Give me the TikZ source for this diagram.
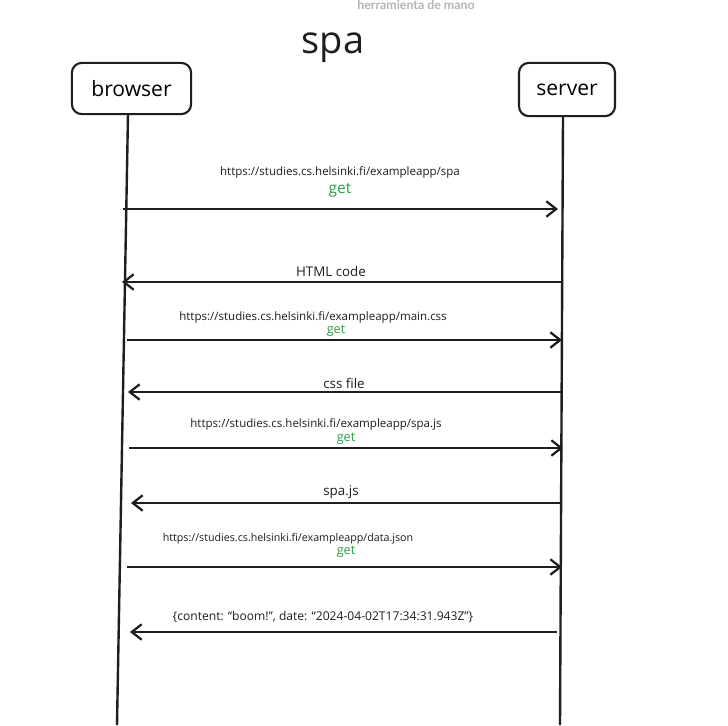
\documentclass[tikz,border=0pt]{standalone}
\usepackage{fontspec}
\setmainfont{Open Sans}
\newfontfamily\notefont{Lato}
\usetikzlibrary{arrows.meta, positioning}

\definecolor{ink}{HTML}{1E1E1E}
\definecolor{getgreen}{HTML}{2F9E44}
\definecolor{notegray}{HTML}{B4B4B4}

\begin{document}
\begin{tikzpicture}[x=0.025cm, y=-0.025cm, >={Straight Barb[length=7pt, width=11pt]},
    font=\fontsize{8.2}{10}\selectfont,
    actor/.style={draw=ink, line width=1.5pt, rounded corners=7pt, inner sep=0pt,
      minimum height=1.28cm, font=\fontsize{15}{18}\selectfont},
    lifeline/.style={draw=ink, line width=1.7pt},
    msg/.style={->, draw=ink, line width=1.6pt},
    lbl/.style={text=ink, inner sep=1pt},
    reply/.style={text=ink, inner sep=1pt, font=\fontsize{9.5}{11}\selectfont},
    gettxt/.style={text=getgreen, inner sep=1pt, font=\fontsize{9}{11}\selectfont}]
  \useasboundingbox[fill=white] (0,0) rectangle (728,725);

  \node[text=notegray, font=\notefont\bfseries\fontsize{8.8}{10}\selectfont, inner sep=0pt] (note) at (416,5) {herramienta de mano};
  \node[text=ink, font=\fontsize{27}{30}\selectfont, inner sep=0pt] (title) at (333,48) {spa};

  \node[actor, minimum width=2.98cm] (browser) at (131.5,88.5) {browser};
  \node[actor, minimum width=2.4cm, minimum height=1.33cm] (server) at (567,89.5) {server};

  \coordinate (browser-top) at (128,114);
  \coordinate (browser-end) at (117,725);
  \coordinate (server-top) at (563,116);
  \coordinate (server-end) at (560,725);
  \draw[lifeline] (browser-top) -- (browser-end);
  \draw[lifeline] (server-top) -- (server-end);

  % requests, browser to server
  \foreach \n/\y/\xa/\xb in {1/209/123/558, 3/340/127/562, 5/448/129/563, 7/567/127/562} {
    \coordinate (b-\n) at (\xa,\y);
    \coordinate (s-\n) at (\xb,\y);
    \draw[msg] (b-\n) -- (s-\n);
  };
  % responses, server to browser
  \foreach \n/\y/\xa/\xb in {2/282/122/563, 4/392/128/561, 6/503/131/561, 8/632/130/557} {
    \coordinate (b-\n) at (\xa,\y);
    \coordinate (s-\n) at (\xb,\y);
    \draw[msg] (s-\n) -- (b-\n);
  };

  \node[lbl] (url-1) at (340,172) {https://studies.cs.helsinki.fi/exampleapp/spa};
  \node[gettxt, font=\fontsize{11}{13}\selectfont] (get-1) at (340,190) {get};
  \node[reply] (reply-2) at (331,271) {HTML code};
  \node[lbl] (url-3) at (313,317) {https://studies.cs.helsinki.fi/exampleapp/main.css};
  \node[gettxt] (get-3) at (336,331) {get};
  \node[reply] (reply-4) at (344,383) {css file};
  \node[lbl] (url-5) at (316,424) {https://studies.cs.helsinki.fi/exampleapp/spa.js};
  \node[gettxt] (get-5) at (346,439) {get};
  \node[reply] (reply-6) at (341,492) {spa.js};
  \node[lbl, font=\fontsize{7.6}{9}\selectfont] (url-7) at (288,539) {https://studies.cs.helsinki.fi/exampleapp/data.json};
  \node[gettxt] (get-7) at (346,552) {get};
  \node[lbl, font=\fontsize{8.6}{10}\selectfont] (reply-8) at (323,617) {\{content: ``boom!'', date: ``2024-04-02T17:34:31.943Z''\}};
\end{tikzpicture}
\end{document}
